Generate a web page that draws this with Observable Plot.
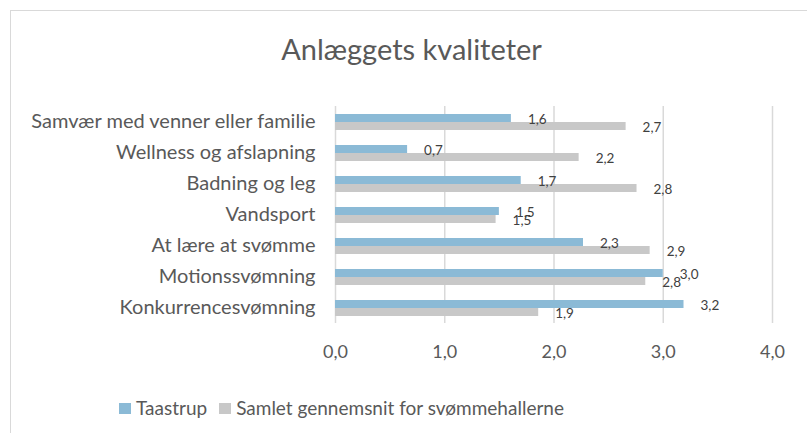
<!DOCTYPE html>
<html><head><meta charset="utf-8">
<script src="https://cdn.jsdelivr.net/npm/d3@7"></script>
<script src="https://cdn.jsdelivr.net/npm/@observablehq/plot@0.6"></script>
<style>
body{margin:0;background:#fff;font-family:Lato, sans-serif;}
#wrap{position:relative;width:807px;height:433px;overflow:hidden;}
#frame{position:absolute;left:10px;top:10px;width:900px;height:500px;border:1px solid #d9d9d9;box-sizing:border-box}
#title{position:absolute;left:0;width:823px;top:30px;text-align:center;font-size:29px;color:#595959;line-height:38px}
#chart{position:absolute;left:0;top:0}
#legend{position:absolute;left:119px;top:397px;font-size:19px;color:#595959;display:flex;align-items:center;line-height:22px}
.sw{display:inline-block;width:12px;height:11px;margin-right:5px}
.item{display:flex;align-items:center;margin-right:12px}
</style></head>
<body>
<div id="wrap">
<div id="frame"></div>
<div id="title">Anlæggets kvaliteter</div>
<div id="chart"></div>
<div id="legend"></div>
</div>
<script>
const categories = ["Samvær med venner eller familie", "Wellness og afslapning", "Badning og leg", "Vandsport", "At lære at svømme", "Motionssvømning", "Konkurrencesvømning"];
const series = ["Taastrup", "Samlet gennemsnit for svømmehallerne"];
const taastrup = [1.61, 0.66, 1.70, 1.50, 2.27, 3.00, 3.19];
const samlet = [2.66, 2.23, 2.76, 1.47, 2.88, 2.84, 1.86];
const xTicks = [0, 1, 2, 3, 4];
const colors = ["#8bbad6", "#c8c8c8"];

const rows = categories.flatMap((c, i) => [
  {category: c, series: series[0], value: taastrup[i]},
  {category: c, series: series[1], value: samlet[i]}
]);
const fmt = v => d3.format(".1f")(v).replace(".", ",");

const chart = Plot.plot({
  width: 807, height: 433,
  marginTop: 103, marginBottom: 108, marginLeft: 335, marginRight: 35,
  style: {background: "none", fontFamily: "Lato, sans-serif"},
  x: {domain: [0, 4]},
  fy: {domain: categories, padding: 0, label: null},
  y: {domain: series, paddingInner: 0, paddingOuter: 0.85, axis: null},
  color: {domain: series, range: colors},
  marks: [
    Plot.gridX(xTicks, {stroke: "#d9d9d9", strokeOpacity: 1, strokeWidth: 1.5}),
    Plot.barX(rows, {x: "value", y: "series", fy: "category", fill: "series"}),
    Plot.text(rows, {x: "value", y: "series", fy: "category", text: d => fmt(d.value), textAnchor: "start", dx: 16.5, dy: 1.5, fill: "#404040", fontSize: 13.5}),
    Plot.axisX(xTicks, {tickFormat: fmt, tickSize: 0, tickPadding: 22, fontSize: 18, label: null, color: "#595959"}),
    Plot.axisFy({anchor: "left", tickSize: 0, tickPadding: 20, fontSize: 20, label: null, color: "#595959"})
  ]
});
document.getElementById("chart").appendChild(chart);

const legend = document.getElementById("legend");
series.forEach((s, i) => {
  const item = document.createElement("div");
  item.className = "item";
  const sw = document.createElement("span");
  sw.className = "sw";
  sw.style.background = colors[i];
  item.appendChild(sw);
  item.appendChild(document.createTextNode(s));
  legend.appendChild(item);
});
</script>
</body></html>
